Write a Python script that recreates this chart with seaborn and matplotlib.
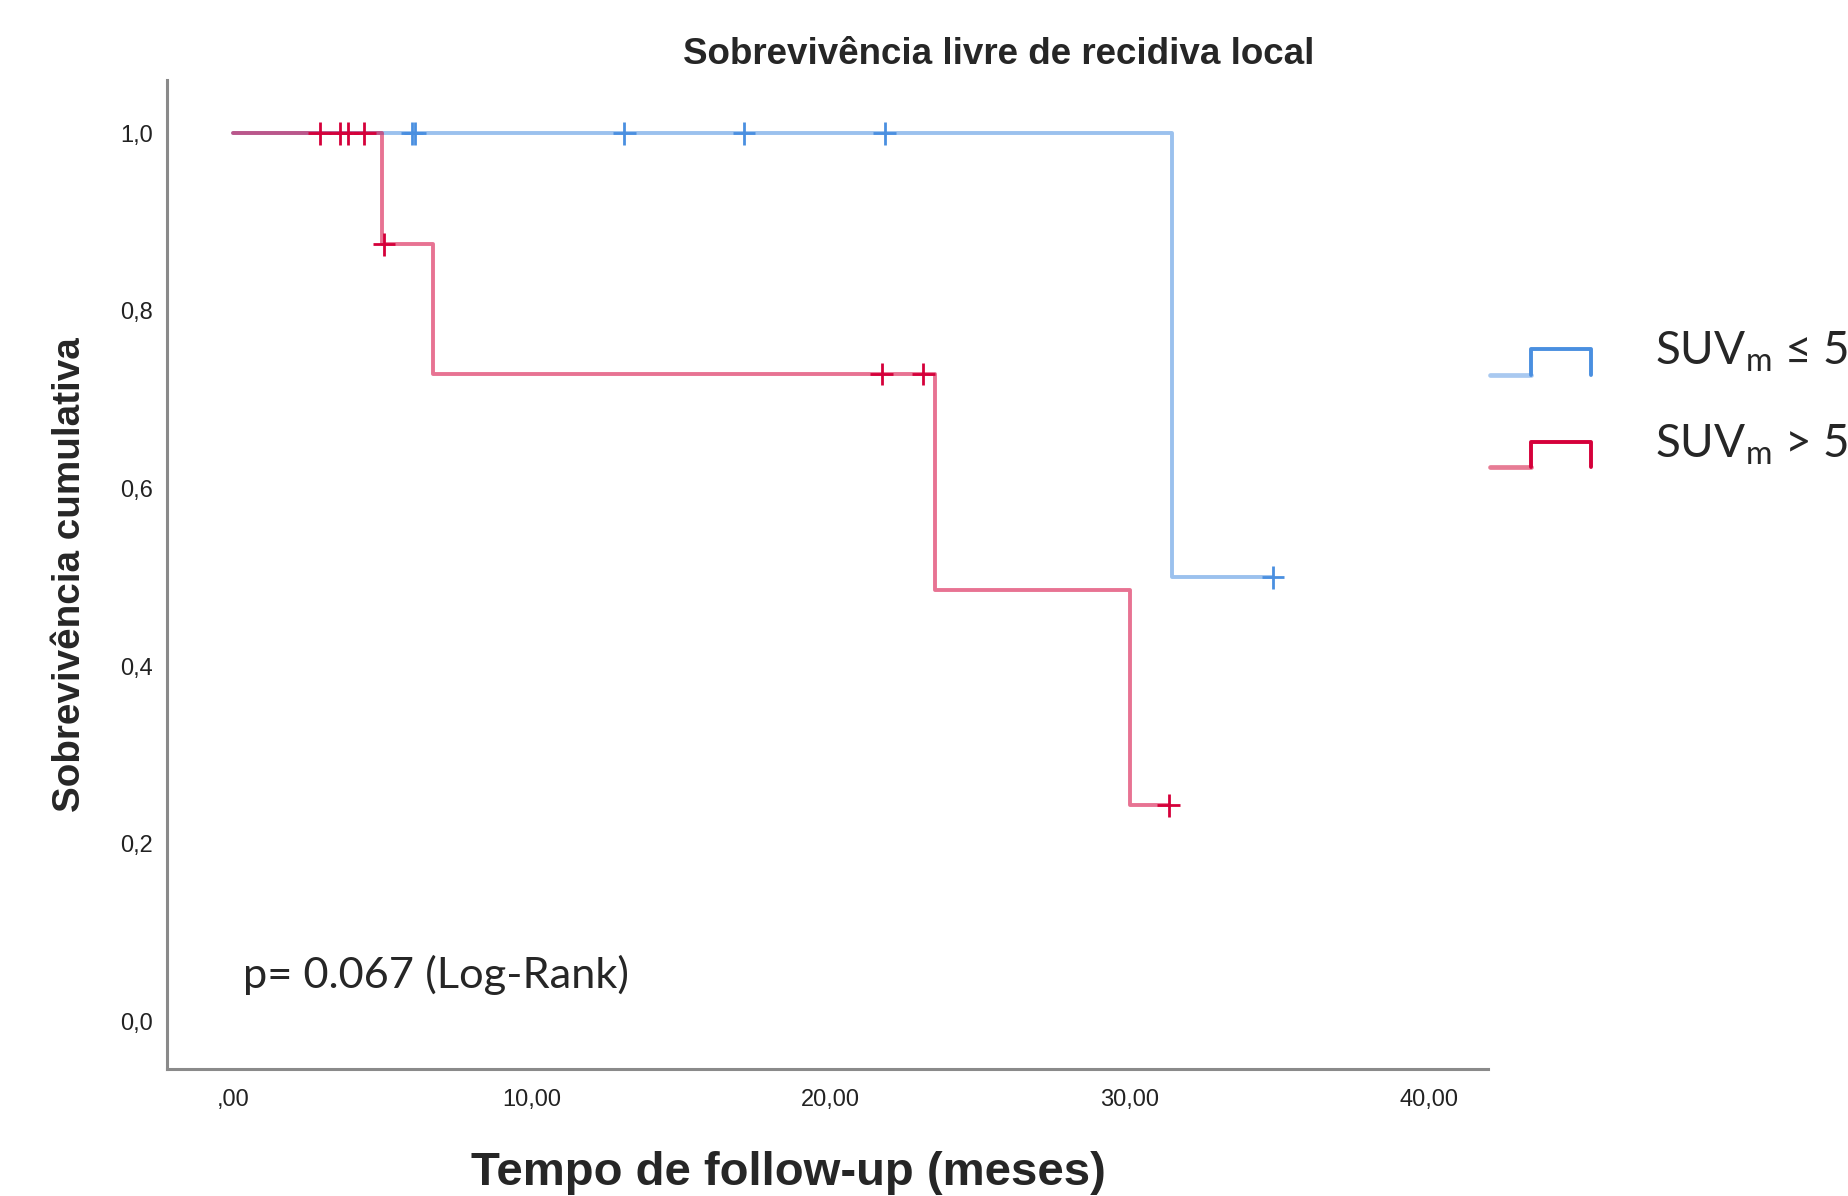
import matplotlib
matplotlib.use("Agg")
import matplotlib.pyplot as plt
import pandas as pd
import seaborn as sns
from matplotlib import font_manager
from matplotlib.legend_handler import HandlerBase
from matplotlib.lines import Line2D

# follow-up (months) and event flag (1 = local relapse, 0 = censored)
low_times = [6.0, 6.1, 13.1, 17.1, 21.8, 31.4, 34.8]
low_events = [0, 0, 0, 0, 0, 1, 0]
high_times = [2.9, 3.6, 3.85, 4.4, 5.0, 5.05, 6.7, 21.7, 23.1, 23.5, 30.0, 31.3]
high_events = [0, 0, 0, 0, 1, 0, 1, 0, 0, 1, 1, 0]

group_labels = ["SUV$_\\mathrm{m}$ ≤ 5", "SUV$_\\mathrm{m}$ > 5"]
group_colors = ["#4a8fe0", "#d5003a"]
light_colors = ["#a9c9f0", "#e77c95"]

xticks = [0, 10, 20, 30, 40]
xtick_labels = [",00", "10,00", "20,00", "30,00", "40,00"]
yticks = [0.0, 0.2, 0.4, 0.6, 0.8, 1.0]
ytick_labels = ["0,0", "0,2", "0,4", "0,6", "0,8", "1,0"]


def kaplan_meier(times, events):
    df = pd.DataFrame({"t": times, "e": events}).sort_values("t")
    surv = 1.0
    at_risk = len(df)
    steps = [(0.0, 1.0)]
    censored = []
    for t, grp in df.groupby("t"):
        d = int(grp["e"].sum())
        if d:
            surv *= 1 - d / at_risk
            steps.append((t, surv))
        censored += [(t, surv)] * int((grp["e"] == 0).sum())
        at_risk -= len(grp)
    steps.append((df["t"].max(), surv))
    return steps, censored


curves, marks = [], []
for label, times, events in [(group_labels[0], low_times, low_events),
                             (group_labels[1], high_times, high_events)]:
    steps, cens = kaplan_meier(times, events)
    curves += [{"time": t, "surv": s, "group": label} for t, s in steps]
    marks += [{"time": t, "surv": s, "group": label} for t, s in cens]
curve_df = pd.DataFrame(curves)
mark_df = pd.DataFrame(marks)
palette = dict(zip(group_labels, group_colors))

sns.set_style("white")
available = {f.name for f in font_manager.fontManager.ttflist}
narrow = "Liberation Sans Narrow" if "Liberation Sans Narrow" in available else "Liberation Sans"
plt.rcParams["font.family"] = ["Liberation Sans", "DejaVu Sans"]
plt.rcParams["mathtext.fontset"] = "custom"
plt.rcParams["mathtext.rm"] = "Lato"

fig = plt.figure(figsize=(18.48, 11.96), dpi=100)
ax = fig.add_axes([0.0904, 0.106, 0.715, 0.827])

sns.lineplot(data=curve_df, x="time", y="surv", hue="group", palette=palette,
             drawstyle="steps-post", estimator=None, sort=False, lw=2.8,
             alpha=0.55, legend=False, ax=ax)
sns.scatterplot(data=mark_df, x="time", y="surv", hue="group", palette=palette,
                marker="+", s=260, linewidth=2, legend=False, ax=ax, zorder=3)

ax.set_xlim(-2.2, 42.0)
ax.set_ylim(-0.054, 1.06)
ax.set_xticks(xticks)
ax.set_xticklabels(xtick_labels)
ax.set_yticks(yticks)
ax.set_yticklabels(ytick_labels)
ax.tick_params(length=0, labelsize=17, colors="#222222")
ax.tick_params(axis="x", pad=14)
ax.tick_params(axis="y", pad=10)
sns.despine(ax=ax)
for side in ["left", "bottom"]:
    ax.spines[side].set_color("#8a8a8a")
    ax.spines[side].set_linewidth(2.2)

ax.set_xlabel("Tempo de follow-up (meses)", fontsize=34, fontweight="bold",
              family=[narrow, "DejaVu Sans"])
ax.xaxis.set_label_coords(0.47, -0.083)
ax.set_ylabel("Sobrevivência cumulativa", fontsize=27.8, fontweight="bold",
              family=[narrow, "DejaVu Sans"])
ax.yaxis.set_label_coords(-0.060, 0.5)

fig.text(999 / 1848, 1 - 54 / 1196, "Sobrevivência livre de recidiva local",
         fontsize=26.5, fontweight="bold", ha="center", va="center")
ax.text(0.0575, 0.095, "p= 0.067 (Log-Rank)", transform=ax.transAxes,
        fontsize=31.2, family=["Lato", "DejaVu Sans"], va="center", ha="left")


class StepHandler(HandlerBase):
    def __init__(self, light, dark):
        super().__init__()
        self.light = light
        self.dark = dark

    def create_artists(self, legend, orig_handle, xdescent, ydescent, width,
                       height, fontsize, trans):
        x0, y0 = -xdescent, -ydescent
        lo = y0 - 0.3 * height
        hi = y0 + 0.5 * height
        xm = x0 + 0.41 * width
        a = Line2D([x0, xm], [lo, lo], color=self.light, lw=3.4, transform=trans)
        b = Line2D([xm, xm, x0 + width, x0 + width], [lo, hi, hi, lo],
                   color=self.dark, lw=2.8, transform=trans)
        return [a, b]


handles = [Line2D([], [], color=c) for c in group_colors]
ax.legend(handles, group_labels,
          handler_map={h: StepHandler(l, c) for h, l, c in zip(handles, light_colors, group_colors)},
          loc="upper left", bbox_to_anchor=(1490 / 1848, 1 - 330 / 1196),
          bbox_transform=fig.transFigure, frameon=False, borderpad=0,
          borderaxespad=0, handlelength=2.2, handletextpad=1.4,
          labelspacing=1.05, prop={"family": ["Lato", "DejaVu Sans"], "size": 33})

fig.savefig("out.png", dpi=100)
